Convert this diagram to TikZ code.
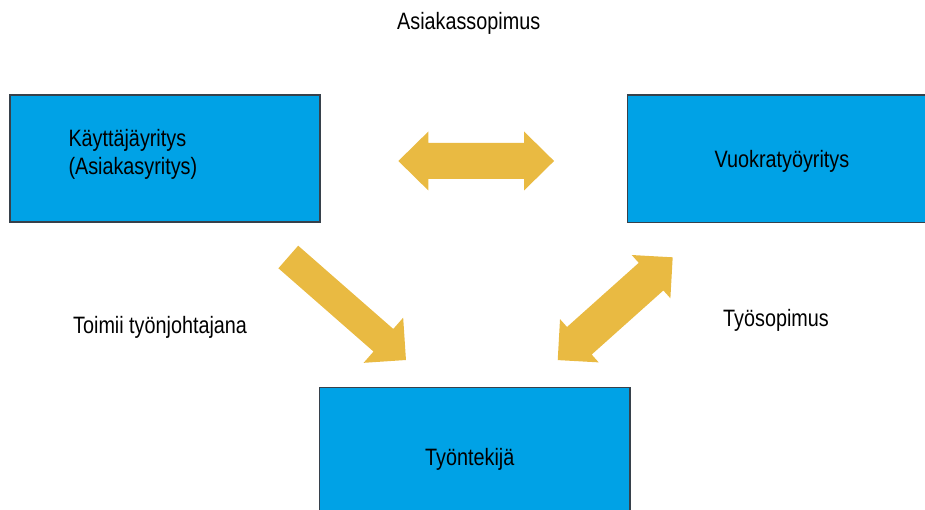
\documentclass[tikz,border=0pt]{standalone}
\usepackage{fontspec}
\setmainfont[FakeStretch=0.835]{Liberation Sans}
\definecolor{boxblue}{RGB}{0,162,230}
\definecolor{boxedge}{RGB}{55,65,75}
\definecolor{arrowgold}{RGB}{233,186,66}
\begin{document}
\begin{tikzpicture}[x=1pt,y=-1pt,
  box/.style={draw=boxedge,line width=1.3pt,fill=boxblue,rectangle,inner sep=0pt},
  lbl/.style={anchor=base west,inner sep=0pt,font=\fontsize{23.7}{28}\selectfont,text=black},
  goldfill/.style={fill=arrowgold}]
\useasboundingbox (0,0) rectangle (925,510);
\clip (0,0) rectangle (925,510);
% boxes
\node[box,minimum width=310pt,minimum height=127pt] (user) at (165,158.5) {};
\node[box,minimum width=310pt,minimum height=127.5pt] (agency) at (782.5,158.7) {};
\node[box,minimum width=310.5pt,minimum height=150pt] (worker) at (474.8,462.5) {};
% labels
\node[lbl] (t1) at (68.3,146.7) {Käyttäjäyritys};
\node[lbl] (t2) at (68.3,175) {(Asiakasyritys)};
\node[lbl] (t3) at (714.5,168) {Vuokratyöyritys};
\node[lbl] (t4) at (425,465) {Työntekijä};
\node[lbl] (t5) at (397,30) {Asiakassopimus};
\node[lbl] (t6) at (73,333.3) {Toimii työnjohtajana};
\node[lbl] (t7) at (723,326) {Työsopimus};
% horizontal double arrow
\begin{scope}[shift={(476.2,161)}]
\fill[goldfill] (-77.85,0) -- (-47.85,-29.5) -- (-47.85,-18) -- (47.85,-18) -- (47.85,-29.5)
  -- (77.85,0) -- (47.85,29.5) -- (47.85,18) -- (-47.85,18) -- (-47.85,29.5) -- cycle;
\end{scope}
% diagonal double arrow (right)
\begin{scope}[shift={(615.2,308.7)},rotate=41.8]
\fill[goldfill] (-77.1,0) -- (-48.1,-29) -- (-48.1,-18.5) -- (48.1,-18.5) -- (48.1,-29)
  -- (77.1,0) -- (48.1,29) -- (48.1,18.5) -- (-48.1,18.5) -- (-48.1,29) -- cycle;
\end{scope}
% diagonal single arrow (left)
\begin{scope}[shift={(288.3,257)},rotate=-41.2]
\fill[goldfill] (0,-15) -- (126.4,-15) -- (126.4,-30) -- (156.4,0) -- (126.4,30) -- (126.4,15) -- (0,15) -- cycle;
\end{scope}
\end{tikzpicture}
\end{document}
